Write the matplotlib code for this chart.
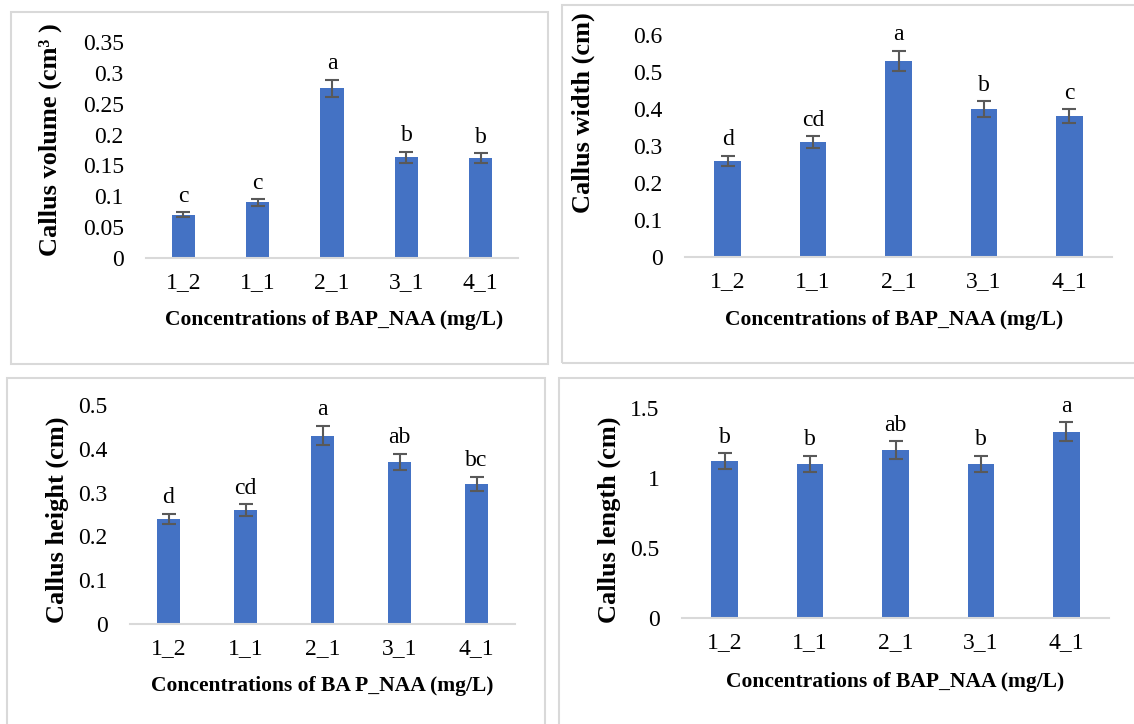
import numpy as np
import matplotlib.pyplot as plt
from matplotlib.patches import Rectangle

plt.rcParams["font.family"] = ["Liberation Serif", "DejaVu Serif"]

W, H = 1134, 724

cats = ["1_2", "1_1", "2_1", "3_1", "4_1"]

volume = [0.070, 0.090, 0.275, 0.163, 0.162]
volume_err = [0.004, 0.005, 0.014, 0.009, 0.008]
volume_let = ["c", "c", "a", "b", "b"]

width = [0.26, 0.31, 0.53, 0.40, 0.38]
width_err = [0.013, 0.016, 0.027, 0.021, 0.019]
width_let = ["d", "cd", "a", "b", "c"]

height = [0.24, 0.26, 0.43, 0.37, 0.32]
height_err = [0.012, 0.013, 0.022, 0.019, 0.016]
height_let = ["d", "cd", "a", "ab", "bc"]

length = [1.12, 1.10, 1.20, 1.10, 1.33]
length_err = [0.058, 0.060, 0.063, 0.060, 0.069]
length_let = ["b", "b", "ab", "b", "a"]

bar_col = "#4472C4"
err_col = "#595959"
grey = "#d9d9d9"


def px_rect(x0, y0, x1, y1):
    return [x0 / W, 1 - y1 / H, (x1 - x0) / W, (y1 - y0) / H]


fig = plt.figure(figsize=(W / 100, H / 100), dpi=100)

# panel frames
for x0, y0, x1, y1 in [(11, 12, 548, 364), (562, 5, 1140, 363),
                       (7, 378, 545, 730), (559, 378, 1140, 730)]:
    fig.add_artist(Rectangle((x0 / W, 1 - y1 / H), (x1 - x0) / W, (y1 - y0) / H,
                             transform=fig.transFigure, fill=False,
                             edgecolor=grey, linewidth=1.5))


def panel(rect, vals, errs, lets, ymax, step, ylabel, xlabel, ylab_xy, xlab_xy):
    ax = fig.add_axes(px_rect(*rect))
    x = np.arange(len(cats))
    ax.bar(x, vals, width=0.31, color=bar_col, zorder=2)
    ax.errorbar(x, vals, yerr=errs, fmt="none", ecolor=err_col,
                elinewidth=1.5, capsize=5, capthick=1.5, zorder=3)
    for xi, v, e, t in zip(x, vals, errs, lets):
        ax.annotate(t, (xi, v + e), xytext=(0, 4), textcoords="offset points",
                    ha="center", va="bottom", fontsize=17)
    ax.set_xlim(-0.5, len(cats) - 0.5)
    ax.set_ylim(0, ymax)
    ticks = np.round(np.arange(0, ymax + step / 2, step), 3)
    ax.set_yticks(ticks)
    ax.set_yticklabels([f"{t:g}" for t in ticks])
    ax.set_xticks(x)
    ax.set_xticklabels(cats)
    ax.tick_params(axis="y", length=0, pad=16, labelsize=17)
    ax.tick_params(axis="x", length=0, pad=10, labelsize=17)
    for s in ["top", "right", "left"]:
        ax.spines[s].set_visible(False)
    ax.spines["bottom"].set_color(grey)
    ax.spines["bottom"].set_linewidth(1.5)
    ax.set_ylabel(ylabel, fontsize=19, fontweight="bold", va="center")
    ax.set_xlabel(xlabel, fontsize=15.5, fontweight="bold", va="center")
    ax.yaxis.set_label_coords(*ylab_xy)
    ax.xaxis.set_label_coords(*xlab_xy)
    return ax


panel((146, 42, 518, 258), volume, volume_err, volume_let, 0.35, 0.05,
      "Callus volume (cm³ )", "Concentrations of BAP_NAA (mg/L)",
      (-0.258, 0.546), (0.507, -0.287))
panel((685, 35, 1112, 257), width, width_err, width_let, 0.6, 0.1,
      "Callus width (cm)", "Concentrations of BAP_NAA (mg/L)",
      (-0.238, 0.65), (0.49, -0.284))
panel((130, 405, 515, 624), height, height_err, height_let, 0.5, 0.1,
      "Callus height (cm)", "Concentrations of BA P_NAA (mg/L)",
      (-0.19, 0.475), (0.5, -0.283))
panel((682, 408, 1109, 618), length, length_err, length_let, 1.5, 0.5,
      "Callus length (cm)", "Concentrations of BAP_NAA (mg/L)",
      (-0.17, 0.467), (0.5, -0.303))

fig.savefig("out.png", dpi=100)
